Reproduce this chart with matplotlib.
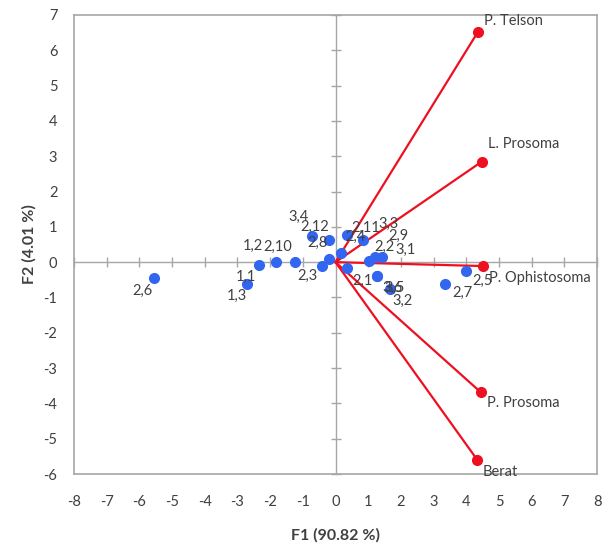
import matplotlib
matplotlib.use("Agg")
import matplotlib.pyplot as plt
import numpy as np

plt.rcParams['font.family'] = ['Lato', 'DejaVu Sans']
plt.rcParams['axes.unicode_minus'] = False

# Observations (PCA scores)
obs_names = ["1,1", "1,2", "1,3", "2,1", "2,2", "2,3", "2,4", "2,5", "2,6", "2,7",
             "2,8", "2,9", "2,10", "2,11", "2,12", "3,1", "3,2", "3,3", "3,4", "3,5", "3,6"]
obs_f1 = [-2.34, -1.83, -2.72, 0.34, 1.01, -0.42, 0.16, 4.00, -5.54, 3.34,
          -0.19, 1.21, -1.24, 0.34, -0.19, 1.42, 1.67, 0.83, -0.73, 1.26, 1.26]
obs_f2 = [-0.09, 0.01, -0.63, -0.16, 0.03, -0.11, 0.27, -0.25, -0.46, -0.61,
          0.08, 0.15, 0.01, 0.78, 0.64, 0.15, -0.75, 0.62, 0.74, -0.40, -0.40]

# Variables (loadings, scaled)
var_names = ["P. Telson", "L. Prosoma", "P. Ophistosoma", "P. Prosoma", "Berat"]
var_f1 = [4.35, 4.48, 4.50, 4.45, 4.33]
var_f2 = [6.51, 2.85, -0.11, -3.69, -5.59]

x_ticks = list(range(-8, 9))
y_ticks = list(range(-6, 8))

# label offsets in pixels (dx right, dy down) -- layout only
obs_offsets = {
    "1,1": (-13, 12), "1,2": (-23, -16), "1,3": (-10, 11), "2,10": (-17, -15),
    "2,6": (-12, 12), "2,3": (-14, 10), "3,4": (-13, -19), "2,12": (-15, -13),
    "2,8": (-12, -16), "2,11": (19, -7), "2,4": (15, -16), "3,3": (26, -16),
    "2,9": (23, -21), "2,2": (16, -14), "3,1": (24, -7), "2,1": (16, 13),
    "3,5": (18, 12), "3,6": (16, 12), "3,2": (12, 12), "2,7": (18, 9), "2,5": (16, 10),
}
var_offsets = {
    "P. Telson": (6, -11), "L. Prosoma": (6, -18), "P. Ophistosoma": (6, 12),
    "P. Prosoma": (6, 11), "Berat": (6, 12),
}

fig = plt.figure(figsize=(6.06, 5.44), dpi=100)
pos = [74 / 606, 1 - 474 / 544, (597 - 74) / 606, (474 - 15) / 544]
ax = fig.add_axes(pos)
ax.set_xlim(-8, 8)
ax.set_ylim(-6, 7)

frame_col = '#A6A6A6'
text_col = '#404040'
for s in ax.spines.values():
    s.set_color(frame_col)
    s.set_linewidth(1.2)
ax.set_xticks(x_ticks)
ax.set_yticks(y_ticks)
ax.tick_params(axis='x', length=0, pad=15, labelsize=10.5, labelcolor=text_col)
ax.tick_params(axis='y', length=0, pad=12, labelsize=10.5, labelcolor=text_col)
ax.set_xlabel("F1 (90.82 %)", fontsize=11.5, fontweight='bold', color=text_col, labelpad=14)
ax.set_ylabel("F2 (4.01 %)", fontsize=11.5, fontweight='bold', color=text_col, labelpad=5)

# inner axes crossing at zero
ax2 = fig.add_axes(pos, sharex=ax, sharey=ax)
ax2.patch.set_visible(False)
ax2.spines['left'].set_position(('data', 0))
ax2.spines['bottom'].set_position(('data', 0))
ax2.spines['top'].set_visible(False)
ax2.spines['right'].set_visible(False)
for k in ['left', 'bottom']:
    ax2.spines[k].set_color(frame_col)
    ax2.spines[k].set_linewidth(1.0)
ax2.tick_params(axis='both', direction='inout', length=7, width=1.0, color=frame_col,
                labelleft=False, labelbottom=False)
ax2.set_zorder(0)
ax.set_zorder(1)
ax.patch.set_visible(False)

# vectors
for n, x, y in zip(var_names, var_f1, var_f2):
    ax.plot([0, x], [0, y], color='#EE1020', lw=1.6, zorder=3)
    ax.plot([x], [y], 'o', color='#EE1020', ms=7, zorder=4)
    dx, dy = var_offsets[n]
    ax.annotate(n, (x, y), xytext=(dx, -dy), textcoords='offset pixels',
                ha='left', va='center', fontsize=10.5, color=text_col, zorder=5)

# observations
ax.plot(obs_f1, obs_f2, 'o', color='#3366F0', ms=7, zorder=4, ls='none')
for n, x, y in zip(obs_names, obs_f1, obs_f2):
    dx, dy = obs_offsets[n]
    ax.annotate(n, (x, y), xytext=(dx, -dy), textcoords='offset pixels',
                ha='center', va='center', fontsize=10.5, color=text_col, zorder=5)

fig.savefig("out.png", dpi=100)
